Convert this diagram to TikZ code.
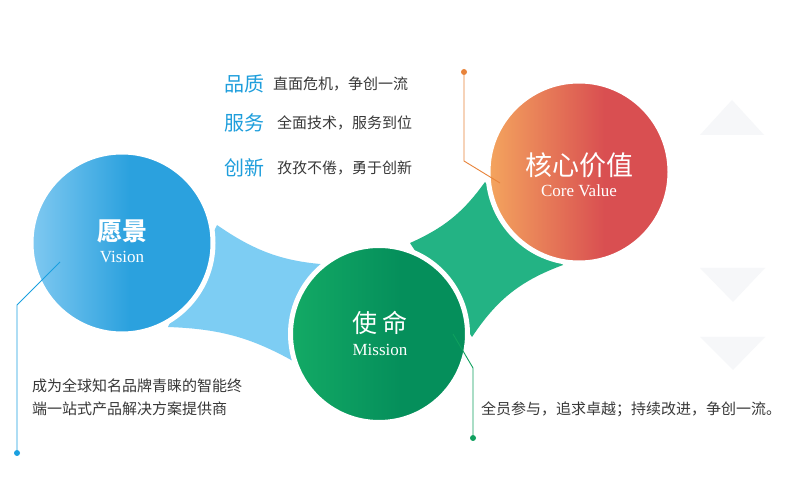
\documentclass[tikz,border=0pt]{standalone}
\usepackage{fontspec}
\setmainfont{Liberation Serif}
\newfontfamily\cjk{Noto Sans CJK SC}
\usetikzlibrary{positioning}

\definecolor{visionL}{HTML}{80C9F1}
\definecolor{visionR}{HTML}{2BA1DE}
\definecolor{bridgeB}{HTML}{7DCDF3}
\definecolor{missionL}{HTML}{13AA65}
\definecolor{missionR}{HTML}{058F5B}
\definecolor{bridgeG}{HTML}{23B384}
\definecolor{coreL}{HTML}{F4A55E}
\definecolor{coreR}{HTML}{D94F51}
\definecolor{keyblue}{HTML}{1E9EDC}
\definecolor{bodytext}{HTML}{383838}
\definecolor{leadB}{HTML}{1AA0E0}
\definecolor{leadO}{HTML}{E8833A}
\definecolor{leadG}{HTML}{0FA05E}
\definecolor{trifill}{HTML}{F6F7F9}

\pgfdeclarehorizontalshading{visionshade}{100bp}{color(0bp)=(visionL); color(25bp)=(visionL); color(52bp)=(visionR); color(100bp)=(visionR)}
\pgfdeclarehorizontalshading{missionshade}{100bp}{color(0bp)=(missionL); color(25bp)=(missionL); color(56bp)=(missionR); color(100bp)=(missionR)}
\pgfdeclarehorizontalshading{coreshade}{100bp}{color(0bp)=(coreL); color(25bp)=(coreL); color(57bp)=(coreR); color(100bp)=(coreR)}

\begin{document}
\begin{tikzpicture}[x=1pt, y=1pt,
  disc/.style={circle, draw=white, line width=5pt, minimum size=#1, inner sep=0pt},
  titlecn/.style={font=\cjk\fontsize{25}{25}\selectfont, text=white, inner sep=0pt},
  titleen/.style={font=\fontsize{17}{17}\selectfont, text=white, inner sep=0pt},
  keyword/.style={font=\cjk\fontsize{20}{20}\selectfont, text=keyblue, anchor=west, inner sep=0pt},
  body/.style={font=\cjk\fontsize{15}{23}\selectfont, text=bodytext, anchor=west, inner sep=0pt},
  leader/.style={line width=0.9pt},
  tipdot/.style={circle, fill, inner sep=0pt, minimum size=6pt}
]
\useasboundingbox (0,0) rectangle (800,487);
\fill[white] (0,0) rectangle (800,487);
% faint background triangles
\fill[trifill] (700,352) -- (764,352) -- (732,387) -- cycle;
\fill[trifill] (700,219) -- (765,219) -- (733,185) -- cycle;
\fill[trifill] (700,150) -- (765,150) -- (733,117) -- cycle;

% bridges behind the circles
\fill[bridgeB] (217,262) to[bend right=16] (335,222) -- (300,122)
  to[bend right=14] (168,160) -- cycle;
\fill[bridgeG] (410,244) to[bend right=15] (485,305) -- (563,222)
  to[bend right=18] (472,150) -- cycle;

% circles
\node[disc=182pt, shading=visionshade] (vision) at (122,244) {};
\node[disc=177pt, shading=missionshade] (mission) at (379,153) {};
\node[disc=182pt, shading=coreshade] (core) at (579,315) {};

\node[titlecn, font=\cjk\bfseries\fontsize{25}{25}\selectfont] (visioncn) at (122,256) {愿景};
\node[titleen] (visionen) at (122,230) {Vision};
\node[titlecn] (missioncn) at (380,164) {使 命};
\node[titleen] (missionen) at (380,137) {Mission};
\node[titlecn, font=\cjk\fontsize{27}{27}\selectfont] (corecn) at (579,322) {核心价值};
\node[titleen] (coreen) at (579,296) {Core Value};

% leader lines
\coordinate (visionpt) at (60,225);
\coordinate (visionbend) at (17,182);
\node[tipdot, leadB] (visiondot) at (17,34) {};
\draw[leader, leadB] (visionpt) -- (visionbend) -- (visiondot);

\coordinate (corept) at (500,304);
\coordinate (corebend) at (464,326);
\node[tipdot, leadO] (coredot) at (464,415) {};
\draw[leader, leadO] (corept) -- (corebend) -- (coredot);

\coordinate (missionpt) at (453,153);
\coordinate (missionbend) at (473,119);
\node[tipdot, leadG] (missiondot) at (473,49) {};
\draw[leader, leadG] (missionpt) -- (missionbend) -- (missiondot);

% core values list
\node[keyword] (k1) at (224,403) {品质};
\node[body] (t1) at (273,403) {直面危机，争创一流};
\node[keyword] (k2) at (224,364) {服务};
\node[body] (t2) at (277,364) {全面技术，服务到位};
\node[keyword] (k3) at (224,319) {创新};
\node[body] (t3) at (277,319) {孜孜不倦，勇于创新};

% descriptions
\node[body, align=left] (visiontext) at (32,90) {成为全球知名品牌青睐的智能终\\端一站式产品解决方案提供商};
\node[body] (missiontext) at (481,78) {全员参与，追求卓越；持续改进，争创一流。};
\end{tikzpicture}
\end{document}
